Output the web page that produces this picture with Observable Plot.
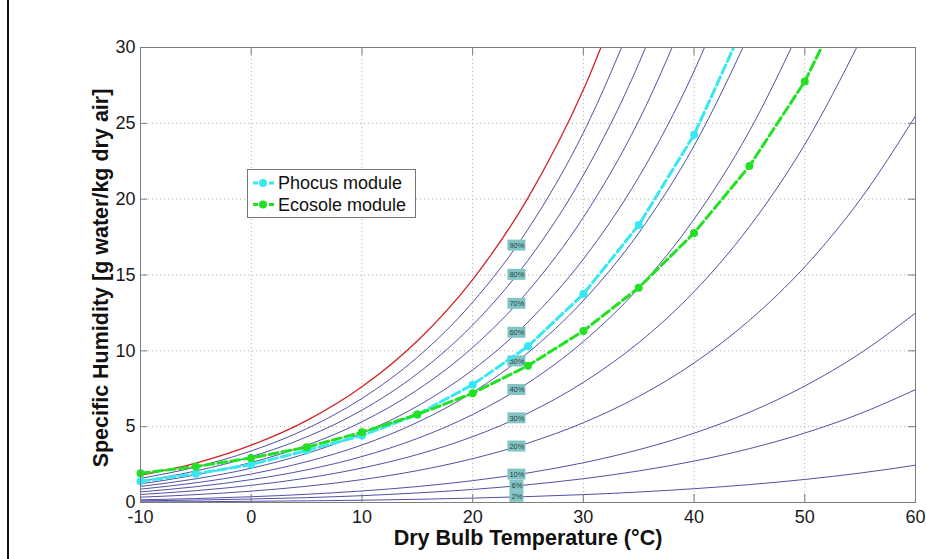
<!DOCTYPE html>
<html><head><meta charset="utf-8">
<script src="https://cdn.jsdelivr.net/npm/d3@7"></script>
<script src="https://cdn.jsdelivr.net/npm/@observablehq/plot@0.6"></script>
<style>
body{margin:0;background:#fff;}
#wrap{position:relative;width:926px;height:559px;font-family:"Liberation Sans",Arial,sans-serif;overflow:hidden;}
#edge{position:absolute;left:7px;top:0;width:2px;height:559px;background:#111;}
#legend{position:absolute;left:247px;top:169px;}
</style></head><body>
<div id="wrap"><div id="edge"></div></div>
<script>
// ---- data ----
const xTicks = [-10, 0, 10, 20, 30, 40, 50, 60];
const yTicks = [0, 5, 10, 15, 20, 25, 30];
const temps = [-10, -5, 0, 5, 10, 15, 20, 25, 30, 35, 40, 45, 50, 55, 60];

// relative-humidity curves, specific humidity [g/kg] at each temperature
const rhLevels = [100, 90, 80, 70, 60, 50, 40, 30, 20, 10, 6, 2];
const rh100 = [1.80, 2.60, 3.78, 5.40, 7.63, 10.65, 14.70, 20.09, 27.21, 36.58];
const rh90  = [1.59, 2.34, 3.40, 4.86, 6.86, 9.57, 13.20, 18.02, 24.38, 32.73];
const rh80  = [1.41, 2.08, 3.02, 4.32, 6.09, 8.49, 11.70, 15.97, 21.58, 28.93, 38.51];
const rh70  = [1.23, 1.82, 2.64, 3.77, 5.32, 7.42, 10.22, 13.93, 18.80, 25.17, 33.44];
const rh60  = [1.06, 1.56, 2.26, 3.23, 4.56, 6.35, 8.74, 11.90, 16.05, 21.45, 28.44, 37.47];
const rh50  = [0.88, 1.30, 1.88, 2.69, 3.79, 5.28, 7.26, 9.88, 13.31, 17.77, 23.52, 30.91];
const rh40  = [0.70, 1.04, 1.51, 2.15, 3.03, 4.22, 5.80, 7.88, 10.61, 14.14, 18.68, 24.49, 31.89];
const rh30  = [0.53, 0.78, 1.13, 1.61, 2.27, 3.16, 4.34, 5.89, 7.92, 10.54, 13.90, 18.19, 23.61, 30.45];
const rh20  = [0.35, 0.52, 0.75, 1.07, 1.51, 2.10, 2.89, 3.92, 5.26, 6.99, 9.20, 12.01, 15.54, 19.97, 25.49];
const rh10  = [0.18, 0.26, 0.38, 0.54, 0.76, 1.05, 1.44, 1.95, 2.62, 3.48, 4.57, 5.95, 7.68, 9.83, 12.49];
const rh6   = [0.11, 0.16, 0.23, 0.32, 0.45, 0.63, 0.86, 1.17, 1.57, 2.08, 2.73, 3.55, 4.58, 5.86, 7.44];
const rh2   = [0.04, 0.05, 0.08, 0.11, 0.15, 0.21, 0.29, 0.39, 0.52, 0.69, 0.91, 1.18, 1.52, 1.94, 2.46];
const rhSeries = [rh100, rh90, rh80, rh70, rh60, rh50, rh40, rh30, rh20, rh10, rh6, rh2];

// curve labels at 24 °C
const labelTemp = 24;
const rhLabels = ["90%", "80%", "70%", "60%", "50%", "40%", "30%", "20%", "10%", "6%", "2%"];
const rhAtLabel = [16.94, 15.01, 13.10, 11.19, 9.30, 7.42, 5.55, 3.69, 1.84, 1.10, 0.37];

// measured modules
const seriesNames = ["Phocus module", "Ecosole module"];
const phocusT = [-10, -5, 0, 5, 10, 15, 20, 25, 30, 35, 40, 45];
const phocusW = [1.40, 1.89, 2.50, 3.43, 4.41, 5.80, 7.77, 10.30, 13.75, 18.29, 24.24, 32.3];
const ecosoleT = [-10, -5, 0, 5, 10, 15, 20, 25, 30, 35, 40, 45, 50, 55];
const ecosoleW = [1.93, 2.37, 2.94, 3.64, 4.63, 5.80, 7.20, 9.02, 11.31, 14.16, 17.77, 22.18, 27.76, 35.2];

// ---- build tables ----
const curves = [];
rhLevels.forEach((level, i) => rhSeries[i].forEach((w, j) => curves.push({level, t: temps[j], w})));
const labels = rhLabels.map((s, i) => ({s, t: labelTemp, w: rhAtLabel[i]}));
const phocus = phocusT.map((t, i) => ({t, w: phocusW[i]}));
const ecosole = ecosoleT.map((t, i) => ({t, w: ecosoleW[i]}));
const inFrame = d => d.w <= 30;

const cyan = "#36e8f2", green = "#22e022";
const axisColor = "#7c7c7c";
const fmt = d => String(d);

const chart = Plot.plot({
  width: 926, height: 559,
  marginTop: 47, marginRight: 11, marginBottom: 57, marginLeft: 140,
  style: {fontFamily: "'Liberation Sans', Arial, sans-serif", fontSize: "18px", color: "#1a1a1a", background: "transparent"},
  x: {domain: [-10, 60]},
  y: {domain: [0, 30]},
  marks: [
    Plot.ruleX(xTicks.slice(1, -1), {stroke: "#b4b4b4", strokeDasharray: "1.2,2.8", strokeWidth: 1}),
    Plot.ruleY(yTicks.slice(1, -1), {stroke: "#b4b4b4", strokeDasharray: "1.2,2.8", strokeWidth: 1}),
    Plot.line(curves.filter(d => d.level !== 100), {x: "t", y: "w", z: "level", stroke: "#3c3c98", strokeWidth: 0.9, curve: "monotone-x", clip: true}),
    Plot.line(curves.filter(d => d.level === 100), {x: "t", y: "w", stroke: "#d02424", strokeWidth: 1.3, curve: "monotone-x", clip: true}),
    Plot.rect(labels.filter(d => d.s.length === 3), {x1: "t", x2: "t", y1: "w", y2: "w", insetLeft: -9, insetRight: -9, insetTop: -5.5, insetBottom: -5.5, fill: "#82c4c4"}),
    Plot.rect(labels.filter(d => d.s.length === 2), {x1: "t", x2: "t", y1: "w", y2: "w", insetLeft: -7, insetRight: -7, insetTop: -5.5, insetBottom: -5.5, fill: "#82c4c4"}),
    Plot.text(labels, {x: "t", y: "w", text: "s", fontSize: 7.5, fill: "#2d4545"}),
    Plot.line(phocus, {x: "t", y: "w", stroke: cyan, strokeWidth: 3, strokeDasharray: "9,4", clip: true}),
    Plot.dot(phocus.filter(inFrame), {x: "t", y: "w", r: 4, fill: cyan}),
    Plot.line(ecosole, {x: "t", y: "w", stroke: green, strokeWidth: 3, strokeDasharray: "9,4", clip: true}),
    Plot.dot(ecosole.filter(inFrame), {x: "t", y: "w", r: 4, fill: green}),
    Plot.frame({stroke: axisColor}),
    Plot.axisX({ticks: xTicks, anchor: "bottom", tickSize: 0, tickPadding: 8, tickFormat: fmt, label: null, fill: "#1a1a1a"}),
    Plot.axisY({ticks: yTicks, anchor: "left", tickSize: 0, tickPadding: 5, tickFormat: fmt, label: null, fill: "#1a1a1a"}),
    Plot.axisX({ticks: xTicks, anchor: "bottom", tickSize: -8, tickFormat: () => "", label: null, stroke: axisColor}),
    Plot.axisX({ticks: xTicks, anchor: "top", tickSize: -7, tickFormat: () => "", label: null, stroke: axisColor}),
    Plot.axisY({ticks: yTicks, anchor: "left", tickSize: -7, tickFormat: () => "", label: null, stroke: axisColor}),
    Plot.axisY({ticks: yTicks, anchor: "right", tickSize: -8, tickFormat: () => "", label: null, stroke: axisColor}),
    Plot.text(["Dry Bulb Temperature (°C)"], {text: d => d, frameAnchor: "bottom", textAnchor: "middle", lineAnchor: "middle", dy: 36, fontSize: 21.5, fontWeight: "bold", fill: "#111"}),
    Plot.text(["Specific Humidity [g water/kg dry air]"], {text: d => d, frameAnchor: "left", textAnchor: "middle", lineAnchor: "middle", rotate: -90, dx: -39, dy: 3, fontSize: 21.5, fontWeight: "bold", fill: "#111"})
  ]
});
const wrap = document.getElementById("wrap");
wrap.appendChild(chart);

// legend overlay
const colors = [cyan, green];
const ns = "http://www.w3.org/2000/svg";
const lg = document.createElementNS(ns, "svg");
lg.setAttribute("id", "legend");
lg.setAttribute("width", 170); lg.setAttribute("height", 50);
let html = `<rect x="0.5" y="0.5" width="168" height="48" fill="#fff" stroke="#777"/>`;
seriesNames.forEach((name, i) => {
  const cy = 14 + i * 21.5;
  html += `<line x1="6" x2="28" y1="${cy}" y2="${cy}" stroke="${colors[i]}" stroke-width="3" stroke-dasharray="5,3"/>`;
  html += `<circle cx="16" cy="${cy}" r="4" fill="${colors[i]}"/>`;
  html += `<text x="31" y="${cy}" dy="0.35em" font-size="18" font-family="'Liberation Sans', Arial, sans-serif" fill="#111">${name}</text>`;
});
lg.innerHTML = html;
wrap.appendChild(lg);
</script>
</body></html>
